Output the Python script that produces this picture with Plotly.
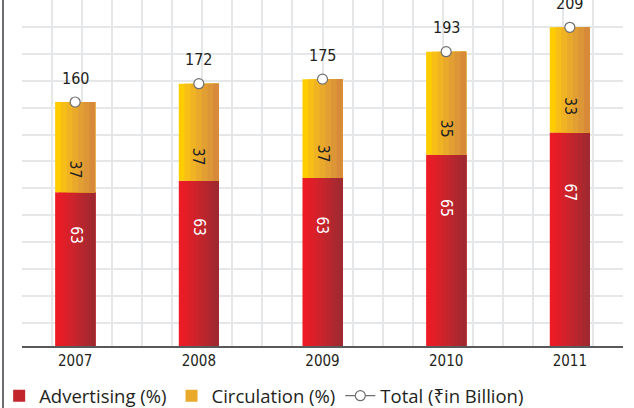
import plotly.graph_objects as go

years = ["2007", "2008", "2009", "2010", "2011"]
advertising_pct = [63, 63, 63, 65, 67]
circulation_pct = [37, 37, 37, 35, 33]
total_billion = [160, 172, 175, 193, 209]

adv_val = [t * a / 100 for t, a in zip(total_billion, advertising_pct)]
circ_val = [t * c / 100 for t, c in zip(total_billion, circulation_pct)]

red_stripes = ["#ED1C24", "#E61D26", "#DE1F28", "#D5212A", "#CC232C", "#C3252D", "#BA262E", "#B1272F", "#A82830", "#A02930"]
yel_stripes = ["#FFCC00", "#F7BE17", "#F0B323", "#E9A92B", "#E29F33", "#DC9537", "#D68A3A"]

FONT_N = "DejaVu Sans Condensed, Liberation Sans Narrow, Noto Sans"
FONT_L = "Open Sans, Noto Sans"
TXT = "#231F20"
GRID = "#E6E7E8"
BAR_W = 0.324

fig = go.Figure()

# invisible helper so the overlaid grid axis has a subplot
fig.add_trace(go.Scatter(x=[0, 20], y=[0, 0], xaxis="x2", mode="markers",
                         marker=dict(opacity=0), showlegend=False, hoverinfo="skip"))

n = len(red_stripes)
for i, col in enumerate(red_stripes):
    fig.add_trace(go.Bar(
        x=years, y=adv_val, base=0,
        width=BAR_W - i * BAR_W / n, offset=-BAR_W / 2 + i * BAR_W / n,
        marker=dict(color=col, line=dict(width=0)),
        name="Advertising (%)", legendgroup="adv",
        showlegend=(i == n // 2), hoverinfo="skip",
    ))
m = len(yel_stripes)
for i, col in enumerate(yel_stripes):
    fig.add_trace(go.Bar(
        x=years, y=circ_val, base=adv_val,
        width=BAR_W - i * BAR_W / m, offset=-BAR_W / 2 + i * BAR_W / m,
        marker=dict(color=col, line=dict(width=0)),
        name="Circulation (%)", legendgroup="circ",
        showlegend=(i == m // 2), hoverinfo="skip",
    ))

fig.add_trace(go.Scatter(
    x=years, y=total_billion, mode="markers",
    marker=dict(size=10, color="white", line=dict(color="#6D6E71", width=1.2)),
    showlegend=False, cliponaxis=False, hoverinfo="skip",
))
fig.add_trace(go.Scatter(
    x=[None], y=[None], mode="lines+markers", name="Total (₹in Billion)",
    marker=dict(size=10, color="white", line=dict(color="#6D6E71", width=1.2)),
    line=dict(color="#6D6E71", width=1.2),
))

ann = []
for k, (a, c, ap, cp, t) in enumerate(zip(adv_val, circ_val, advertising_pct, circulation_pct, total_billion)):
    ann.append(dict(x=k, y=a * 0.72, xref="x", yref="y", text=str(ap), showarrow=False, textangle=90,
                    font=dict(family=FONT_N, size=15.5, color="white")))
    ann.append(dict(x=k, y=a + c * 0.25, xref="x", yref="y", text=str(cp), showarrow=False, textangle=90,
                    font=dict(family=FONT_N, size=15.5, color=TXT)))
    ann.append(dict(x=k, y=t, xref="x", yref="y", text=str(t), showarrow=False, yshift=24,
                    font=dict(family=FONT_N, size=16, color=TXT)))

fig.update_layout(
    width=634, height=408,
    margin=dict(l=22, r=11, t=0, b=62, autoexpand=False),
    paper_bgcolor="white", plot_bgcolor="white",
    barmode="overlay",
    annotations=ann,
    xaxis=dict(type="category", range=[-0.43, 4.43], showgrid=False, showline=True,
               linecolor="#58595B", linewidth=2, ticks="", zeroline=False,
               tickfont=dict(family=FONT_N, size=15, color=TXT)),
    xaxis2=dict(overlaying="x", anchor="y", range=[0, 20], dtick=1, showgrid=True,
                gridcolor=GRID, gridwidth=1.5, showticklabels=False, zeroline=False, ticks=""),
    yaxis=dict(range=[0, 226.9], tick0=15.2, dtick=17.64, showgrid=True, gridcolor=GRID,
               gridwidth=1.5, showticklabels=False, zeroline=False, ticks=""),
    legend=dict(orientation="h", x=-0.038, xanchor="left", y=-0.145, yanchor="middle",
                font=dict(family=FONT_L, size=18.5, color=TXT), bgcolor="rgba(0,0,0,0)"),
    shapes=[dict(type="line", xref="paper", yref="paper", x0=-19 / 601, x1=-19 / 601,
                 y0=-62 / 346, y1=1, line=dict(color="#6D6E71", width=2))],
    showlegend=True,
)

fig.write_html("out.html", config={"displayModeBar": False},
               post_script="document.body.style.margin='0';document.body.style.padding='0';")
